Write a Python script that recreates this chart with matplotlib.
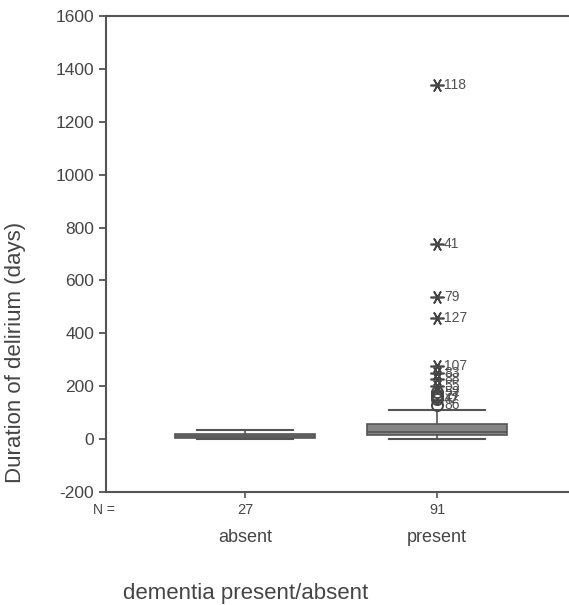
import matplotlib
matplotlib.use("Agg")
import matplotlib.pyplot as plt
import matplotlib.transforms as mtransforms

plt.rcParams['font.family'] = ['Liberation Sans', 'DejaVu Sans']
plt.rcParams['axes.unicode_minus'] = False

# data
groups = ['absent', 'present']
counts = [27, 91]
q1 = [3, 15]
medians = [10, 26]
q3 = [18, 56]
whis_lo = [0, 0]
whis_hi = [35, 111]

# outliers of the "present" group
circle_vals = [178, 168, 158, 150, 130]
circle_ids = ['52', '27', '77', '42', '86']
star_vals = [1339, 737, 537, 458, 276, 250, 228, 200]
star_ids = ['118', '41', '79', '127', '107', '83', '88', '55']

grey = '#454545'
line_c = '#555555'

fig = plt.figure(figsize=(5.69, 6.05), dpi=100)
ax = fig.add_axes([106/569, 113/605, 494/569, 476/605])

pos = [1, 2]
stats = []
for i in range(len(groups)):
    stats.append(dict(med=medians[i], q1=q1[i], q3=q3[i],
                      whislo=whis_lo[i], whishi=whis_hi[i], fliers=[]))
bp = ax.bxp(stats, positions=pos, widths=0.73, patch_artist=True,
            boxprops=dict(facecolor='#858585', edgecolor=line_c, linewidth=1.2),
            medianprops=dict(color=line_c, linewidth=1.2),
            whiskerprops=dict(color=line_c, linewidth=1.2),
            capprops=dict(color=line_c, linewidth=1.5),
            capwidths=0.505)

# outliers: circles and extremes (asterisks)
ax.plot([2]*len(circle_vals), circle_vals, linestyle='none', marker='o',
        markersize=8, markerfacecolor='none', markeredgecolor=grey,
        markeredgewidth=1.4)
ax.plot([2]*len(star_vals), star_vals, linestyle='none', marker=(6, 2, 90),
        markersize=10, markeredgecolor=grey, markeredgewidth=1.2)
for v, t in zip(circle_vals + star_vals, circle_ids + star_ids):
    ax.annotate(t, (2, v), xytext=(5, 0), textcoords='offset points',
                va='center', ha='left', fontsize=10, color='#505050')

ax.set_xlim(1 - 139/192, 1 + 355/192)
ax.set_ylim(-200, 1600)
ax.set_yticks(range(-200, 1601, 200))
ax.set_xticks(pos)
ax.set_xticklabels([])
ax.tick_params(axis='y', labelsize=12.5, colors=grey, length=5, width=1.2)
ax.tick_params(axis='x', length=4, width=1.2, colors=line_c)
for s in ax.spines.values():
    s.set_color(line_c)
    s.set_linewidth(1.5)

trans = mtransforms.blended_transform_factory(ax.transData, fig.transFigure)
for p, n, g in zip(pos, counts, groups):
    ax.text(p, 1 - 510/605, str(n), transform=trans, ha='center', va='center',
            fontsize=10.5, color=grey)
    ax.text(p, 1 - 538/605, g, transform=trans, ha='center', va='center',
            fontsize=13, color=grey)
fig.text(104/569, 1 - 510/605, 'N =', ha='center', va='center', fontsize=10,
         color=grey)

ax.set_ylabel('Duration of delirium (days)', fontsize=16, color=grey)
ax.yaxis.set_label_coords(-80/494, 0.294)
fig.text(246/569, 1 - 594/605, 'dementia present/absent', ha='center',
         va='center', fontsize=16, color=grey)

fig.savefig('out.png', dpi=100)
